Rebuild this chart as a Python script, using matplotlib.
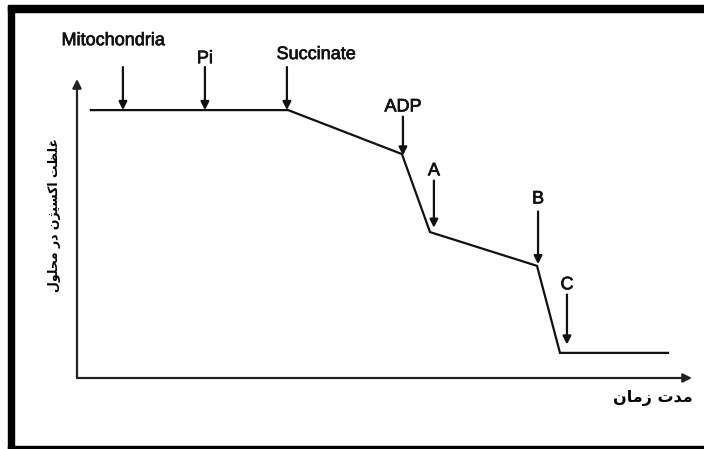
import numpy as np
import matplotlib
matplotlib.use("Agg")
import matplotlib.pyplot as plt
import matplotlib.patheffects as pe
from matplotlib.patches import Rectangle

# oxygen electrode trace (arbitrary units)
time = [0.68, 10.3, 15.85, 17.22, 22.44, 23.56, 28.83]
oxygen = [89.6, 89.6, 74.9, 48.8, 37.5, 8.4, 8.4]

# additions
events = ["Mitochondria", "Pi", "Succinate", "ADP", "A", "B", "C"]
event_time = [2.24, 6.24, 10.24, 15.9, 17.41, 22.49, 23.9]

# persian labels, written in presentation forms in visual (left to right) order
ylabel = "\uFEDD\uFEEE\uFEE0\uFEA4\uFEE3 \uFEAD\uFEA9 \uFEE5\uFB8B\uFEF4\uFEB4\uFEDB\uFE8D \uFE96\uFEC8\uFEE0\uFECF"
xlabel = "\uFEE5\uFE8E\uFEE3\uFEAF \uFE95\uFEAA\uFEE3"

fig = plt.figure(figsize=(7.04, 4.49), dpi=100)
ax = fig.add_axes([77 / 704, 71 / 449, 615 / 704, 299 / 449])
ax.set_xlim(0, 30)
ax.set_ylim(0, 100)
for s in ax.spines.values():
    s.set_visible(False)
ax.set_xticks([])
ax.set_yticks([])

# axes with arrow heads
axis_arrow = dict(arrowstyle="-|>", color="#222222", lw=1.6, mutation_scale=13, shrinkA=0, shrinkB=0)
ax.annotate("", xy=(1, 0), xytext=(0, 0), xycoords="axes fraction", arrowprops=axis_arrow)
ax.annotate("", xy=(0, 1), xytext=(0, 0), xycoords="axes fraction", arrowprops=axis_arrow)

ax.plot(time, oxygen, color="#111111", lw=1.6, solid_joinstyle="miter")

# arrow length, gap above curve and label offset (points)
arrow_len = [31, 31, 31, 29, 38, 42, 42]
gap = [0, 0, 0, 1, 4, 4, 6]
label_dx = [-7, 0, 21, 0, 0, 0, 0]
label_dy = [50, 37, 40, 36, 45, 51, 49]

thick = [pe.withStroke(linewidth=0.5, foreground="#111111")]
for name, t, L, g, dx, dy in zip(events, event_time, arrow_len, gap, label_dx, label_dy):
    y = np.interp(t, time, oxygen)
    ax.annotate("", xy=(t, y), xytext=(0, L), textcoords="offset points",
                arrowprops=dict(arrowstyle="-|>", color="#111111", lw=1.6,
                                mutation_scale=12, shrinkA=0, shrinkB=g),
                annotation_clip=False)
    ax.annotate(name, xy=(t, y), xytext=(dx, dy), textcoords="offset points",
                ha="center", va="center", fontsize=13, family="Liberation Sans",
                color="#111111", annotation_clip=False, path_effects=thick)

fig.text(55 / 704, 1 - 215 / 449, ylabel, rotation=90, ha="center", va="center",
         fontsize=9, fontweight="bold", family="DejaVu Sans")
fig.text(693 / 704, 1 - 398 / 449, xlabel, ha="right", va="center",
         fontsize=11.5, fontweight="bold", family="DejaVu Sans")

# scanned frame
fig.add_artist(Rectangle((8 / 704, 0), 6 / 704, 443 / 449, transform=fig.transFigure, color="black"))
fig.add_artist(Rectangle((8 / 704, 1 - 12 / 449), 696 / 704, 7 / 449, transform=fig.transFigure, color="black"))
fig.add_artist(Rectangle((8 / 704, 1 / 449), 696 / 704, 2 / 449, transform=fig.transFigure, color="black"))

fig.savefig("out.png", dpi=100)
